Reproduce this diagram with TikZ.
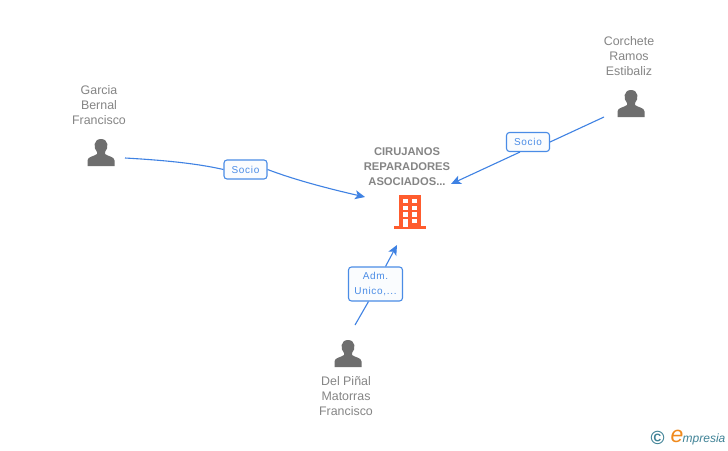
\documentclass[tikz,border=0pt]{standalone}
\usepackage{fontspec}
\setmainfont{Liberation Sans}
\usetikzlibrary{arrows.meta}
\usetikzlibrary{positioning}
\definecolor{linkblue}{HTML}{3F82E3}
\definecolor{boxblue}{HTML}{4A8CE6}
\definecolor{namegray}{HTML}{858585}
\definecolor{icongray}{HTML}{6E6E6E}
\definecolor{firmorange}{HTML}{FF5C2E}
\definecolor{logoteal}{HTML}{3F8296}
\definecolor{logoorange}{HTML}{F08A1D}
\tikzset{
    namelabel/.style={align=center, text=namegray, inner sep=0pt, font=\fontsize{12.4}{15}\selectfont},
    firmlabel/.style={align=center, text=namegray, inner sep=0pt, font=\fontsize{11.2}{15}\selectfont\bfseries},
    rolebox/.style={draw=boxblue, line width=1.1pt, rounded corners=3pt, fill=white!97!boxblue, text=boxblue, align=center, inner sep=0pt, font=\fontsize{10}{15}\selectfont\addfontfeatures{LetterSpace=7}},
    link/.style={draw=linkblue, line width=1.1pt},
    linkarrow/.style={link, -{Stealth[length=10pt, width=9pt, inset=2.5pt]}},
    personicon/.pic={
        \fill[icongray] (-13.5, 13) -- (-13.5, 7.5) .. controls (-13.5, 3.5) and (-7, 3.5) .. (-4, 1)
            -- (-4, -1) .. controls (-8, -5) and (-7.5, -14) .. (0, -14)
            .. controls (7.5, -14) and (8, -5) .. (4, -1) -- (4, 1)
            .. controls (7, 3.5) and (13.5, 3.5) .. (13.5, 7.5) -- (13.5, 13) -- cycle;
    }
}
\begin{document}
\begin{tikzpicture}[x=1pt, y=-1pt]
    \useasboundingbox (0, 0) rectangle (728, 450);
    \fill[white] (0, 0) rectangle (728, 450);

    % people
    \pic at (101, 153) {personicon};
    \pic at (631, 104) {personicon};
    \pic at (348, 354) {personicon};
    \node[namelabel] (garcia) at (99, 105) {Garcia\\Bernal\\Francisco};
    \node[namelabel] (corchete) at (629, 56) {Corchete\\Ramos\\Estibaliz};
    \node[namelabel] (delpinal) at (346, 396) {Del Piñal\\Matorras\\Francisco};

    % company
    \node[firmlabel] (cirujanos) at (407, 166.5) {CIRUJANOS\\REPARADORES\\ASOCIADOS...};
    \fill[firmorange] (399, 195) rectangle (421, 227);
    \fill[firmorange] (394, 226) rectangle (426, 229);
    \foreach \y in {199, 205.7, 212.3, 219} {
        \fill[white] (402.7, \y) rectangle +(5, 4.4);
        \fill[white] (412.3, \y) rectangle +(5, 4.4);
    }
    \fill[white] (402.7, 222) rectangle (407.7, 226.5);

    % roles
    \node[rolebox, minimum width=43pt, minimum height=19pt] (sociog) at (245.5, 169.5) {Socio};
    \node[rolebox, minimum width=43pt, minimum height=19pt] (socioc) at (528, 142) {Socio};
    \node[rolebox, minimum width=54pt, minimum height=34pt] (adm) at (375.5, 284) {Adm.\\Unico,...};

    \coordinate (garciaout) at (125, 158);
    \coordinate (corcheteout) at (604, 117);
    \coordinate (delpinalout) at (355, 325);
    \coordinate (firmw) at (365, 197);
    \coordinate (firme) at (451, 184);
    \coordinate (firms) at (397, 245);

    \draw[link] (garciaout) .. controls (160, 160) and (195, 163) .. (sociog.west);
    \draw[linkarrow] (sociog.east) .. controls (295, 180) and (330, 189) .. (firmw);
    \draw[link] (corcheteout) -- (socioc.east);
    \draw[linkarrow] (socioc.south west) ++(14, 0) -- (firme);
    \draw[link] (delpinalout) -- ([xshift=-7pt]adm.south);
    \draw[linkarrow] ([xshift=10pt]adm.north) -- (firms);

    % logo
    \node[text=logoteal, inner sep=0pt, font=\fontsize{19}{19}\selectfont\bfseries] (copyr) at (657.5, 438) {©};
    \node[text=logoorange, inner sep=0pt, font=\fontsize{23}{23}\selectfont\itshape] (logoe) at (677, 436.5) {e};
    \node[text=logoteal, inner sep=0pt, anchor=west, font=\fontsize{12}{12}\selectfont\itshape] (logotext) at (682.5, 439) {mpresia};
\end{tikzpicture}
\end{document}
